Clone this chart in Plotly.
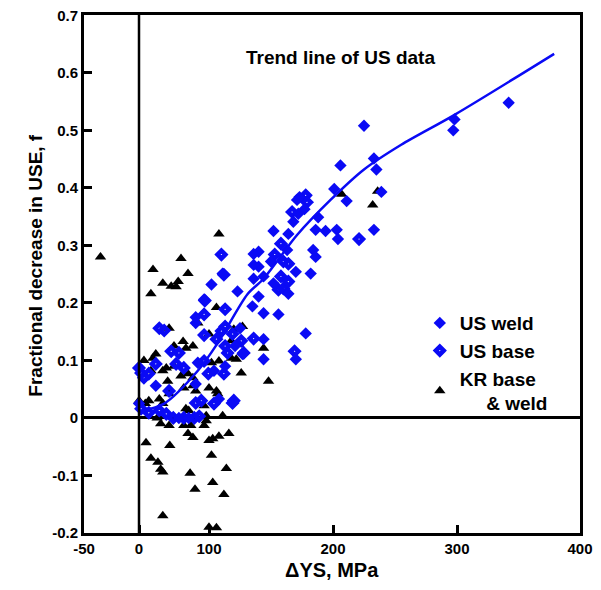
import numpy as np
import plotly.graph_objects as go

# ---- data (ΔYS in MPa, fractional decrease f) ----
us_weld_x = [342, 298, 297, 225, 206, 233, 235, 201, 211, 239, 173, 171, 177, 172, 168, 188,
             152, 164, 186, 194, 203, 204, 233, 140, 163, 184, 186, 140, 150, 170, 182, 136,
             144, 152, 164, 123, 140, 135, 144, 156, 178, 144, 144, 170, 102, 93, 111, 81,
             136, 136, 81, 125, 121, 127, 84, 113, 104, 81, 24, 108, 0, 57, 71]
us_weld_y = [0.548, 0.519, 0.5, 0.508, 0.439, 0.451, 0.432, 0.398, 0.377, 0.393, 0.384, 0.379,
             0.363, 0.355, 0.341, 0.349, 0.325, 0.32, 0.327, 0.325, 0.327, 0.311, 0.327, 0.289,
             0.292, 0.292, 0.28, 0.263, 0.272, 0.254, 0.251, 0.242, 0.246, 0.234, 0.216, 0.22,
             0.211, 0.194, 0.182, 0.18, 0.147, 0.137, 0.102, 0.102, 0.232, 0.206, 0.251, 0.175,
             0.285, 0.266, 0.165, 0.156, 0.125, 0.111, 0.096, 0.09, 0.082, 0.059, 0.056, 0.033,
             0.025, 0.0, 0.0]

us_base_x = [178, 179, 167, 221, 158, 153, 160, 164, 158, 156, 160, 164, 136, 126, 128, 169,
             110, 112, 94, 113, 93, 29, 36, 93, 110, 113, 119, 106, 113, 115, 46, 57, 53, 64,
             93, 24, 0, 3, 7, 14, 112, 99, 43, 89, 81, 104, 119, 120, 3, 14, 29, 39, 49, 64,
             79, 86]
us_base_y = [0.387, 0.375, 0.358, 0.311, 0.303, 0.284, 0.272, 0.268, 0.246, 0.223, 0.225, 0.237,
             0.138, 0.134, 0.113, 0.116, 0.284, 0.249, 0.204, 0.189, 0.18, 0.156, 0.152, 0.144,
             0.151, 0.159, 0.146, 0.137, 0.125, 0.113, 0.116, 0.113, 0.094, 0.087, 0.099, 0.094,
             0.087, 0.078, 0.07, 0.077, 0.077, 0.077, 0.047, 0.03, 0.026, 0.025, 0.026, 0.03,
             0.016, 0.009, 0.013, 0.007, 0.0, 0.0, 0.0, 0.003]

kr_x = [-35, 20, 17, 34, 46, 53, 56, 60, 70, 108, 106, 84, 43, 207, 236, 232, 127, 120, 144,
        122, 148, 126, 118, 77, 67, 63, 50, 24, 20, 17, 34, 39, 60, 70, 77, 64, 77, 81, 100,
        106, 102, 108, 41, 43, 14, 29, 34, 67, 71, 93, 107, 96, 31, 43, 64, 74, 93, 96, 111,
        70, 77, 100, 103, 108, 116, 10, 44, 102, 17, 27, 31, 34, 114, 73, 103, 80, 112, 34,
        106, 100, 0, 9, 7, 50, 26, 100, 124, 118]
kr_y = [0.28, 0.258, 0.216, 0.234, 0.229, 0.228, 0.237, 0.277, 0.251, 0.32, 0.192, 0.165, 0.156,
        0.389, 0.394, 0.37, 0.159, 0.154, 0.121, 0.102, 0.064, 0.078, 0.134, 0.125, 0.121,
        0.133, 0.125, 0.111, 0.104, 0.082, 0.082, 0.087, 0.073, 0.077, 0.07, 0.052, 0.056,
        0.047, 0.052, 0.047, 0.096, 0.099, 0.064, 0.042, 0.03, 0.033, 0.025, 0.016, 0.013,
        0.021, 0.042, -0.005, -0.01, -0.013, -0.013, -0.013, -0.013, 0.004, 0.004, -0.027,
        -0.034, -0.039, -0.036, -0.032, -0.027, -0.043, -0.048, -0.065, -0.07, -0.077, -0.089,
        -0.094, -0.088, -0.096, -0.112, -0.124, -0.133, -0.17, -0.191, -0.19, 0.03, 0.025,
        0.1, 0.09, 0.0, 0.146, 0.128, 0.104]

trend_x = [3, 36, 84, 107, 131, 144, 171, 198, 225, 255, 298, 379]
trend_y = [0.012, 0.025, 0.082, 0.13, 0.215, 0.242, 0.318, 0.379, 0.432, 0.475, 0.527, 0.633]

x_ticks = [-50, 0, 100, 200, 300, 400]
x_tick_text = ["-50", "0", "100", "200", "300", "400"]
y_ticks = [-0.2, -0.1, 0, 0.1, 0.2, 0.3, 0.4, 0.5, 0.6, 0.7]
y_tick_text = ["-0.2", "-0.1", "0", "0.1", "0.2", "0.3", "0.4", "0.5", "0.6", "0.7"]

# the original x axis is not evenly spaced, so map values onto it piecewise
x_tick_pos = [0, 55, 125, 249, 373, 496]


def warp(v):
    return np.interp(v, x_ticks, x_tick_pos)


BLUE = "#0a0af5"
FONT = "Liberation Sans, Arial, sans-serif"
NB = "\u00a0"

fig = go.Figure()

fig.add_trace(go.Scatter(
    x=warp(kr_x), y=kr_y, mode="markers", name="KR base<br>" + NB * 5 + "& weld",
    marker=dict(symbol="triangle-up", size=10, color="black"), legendrank=3,
))
fig.add_trace(go.Scatter(
    x=warp(us_base_x), y=us_base_y, mode="markers", name="US base",
    marker=dict(symbol="diamond-open", size=6, color=BLUE, line=dict(width=4.5)), legendrank=2,
))
fig.add_trace(go.Scatter(
    x=warp(us_weld_x), y=us_weld_y, mode="markers", name="US weld",
    marker=dict(symbol="diamond", size=9.5, color=BLUE), legendrank=1,
))
fig.add_trace(go.Scatter(
    x=warp(trend_x), y=trend_y, mode="lines",
    line=dict(color=BLUE, width=2.5, shape="spline", smoothing=0.8),
    showlegend=False,
))

fig.add_vline(x=warp(0), line=dict(color="black", width=2.5))

fig.add_annotation(
    text="Trend line of US data", x=0.712, y=0.942, xref="paper", yref="paper",
    showarrow=False, font=dict(family=FONT, size=19, color="black", weight="bold"),
)
fig.add_annotation(
    text="ΔYS, MPa", x=0.5, y=-0.072, xref="paper", yref="paper", yanchor="middle",
    showarrow=False, font=dict(family=FONT, size=20, color="black", weight="bold"),
)
fig.add_annotation(
    text="Fractional decrease in USE, f", x=-0.123, y=0.517, xref="paper", yref="paper",
    textangle=-90, showarrow=False, font=dict(family=FONT, size=19, color="black", weight="bold"),
)

fig.update_xaxes(
    range=[0, 496], tickvals=warp(x_ticks), ticktext=x_tick_text,
    showline=True, mirror=True, linecolor="black", linewidth=3,
    ticks="inside", ticklen=8, tickwidth=2.5, tickcolor="black",
    showgrid=False, zeroline=False, ticklabeloverflow="allow", automargin=False,
    tickfont=dict(family=FONT, size=15, color="black", weight="bold"),
)
fig.update_yaxes(
    range=[-0.2, 0.7005], tickvals=y_ticks, ticktext=y_tick_text,
    showline=True, mirror=True, linecolor="black", linewidth=3,
    ticks="inside", ticklen=8, tickwidth=2.5, tickcolor="black",
    showgrid=False, zeroline=True, zerolinecolor="black", zerolinewidth=2.5,
    ticklabeloverflow="allow", automargin=False,
    tickfont=dict(family=FONT, size=15, color="black", weight="bold"),
)

# the page body adds an 8px margin, so the figure is kept 16px smaller than the window
fig.update_layout(
    width=585, height=574,
    margin=dict(l=76, r=13, t=7, b=49),
    plot_bgcolor="white", paper_bgcolor="white",
    legend=dict(
        x=0.677, y=0.442, xanchor="left", yanchor="top", bgcolor="rgba(0,0,0,0)",
        font=dict(family=FONT, size=19, color="black", weight="bold"),
        itemwidth=30, tracegroupgap=0,
    ),
)

fig.write_html("out.html")
